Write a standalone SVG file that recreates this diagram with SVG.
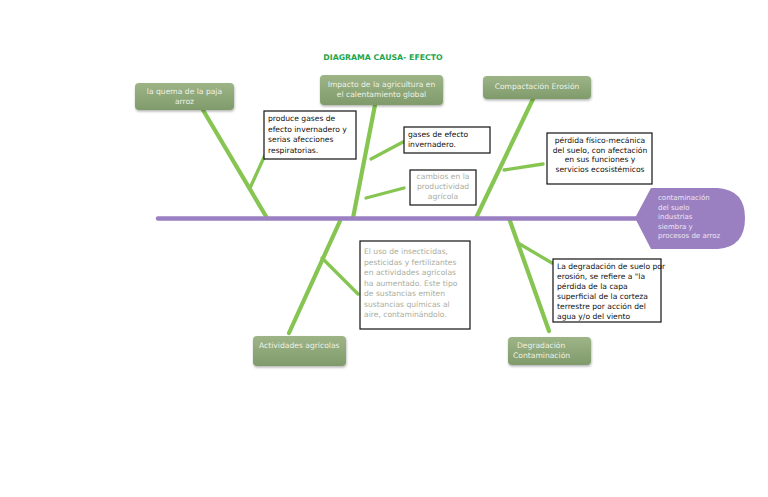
<svg xmlns="http://www.w3.org/2000/svg" width="768" height="497" viewBox="0 0 768 497">
<defs>
<linearGradient id="gn" x1="0" y1="0" x2="0" y2="1">
<stop offset="0" stop-color="#9db487"/>
<stop offset="1" stop-color="#809b6b"/>
</linearGradient>
<filter id="sh" x="-10%" y="-10%" width="130%" height="140%">
<feDropShadow dx="0.5" dy="1.5" stdDeviation="1" flood-color="#000" flood-opacity="0.3"/>
</filter>
</defs>
<style>
text{font-family:"DejaVu Sans","Verdana",sans-serif;}
.node{fill:url(#gn);filter:url(#sh);}
.nt{fill:#eef2e8;font-size:7.6px;}
.bone{stroke:#87c552;stroke-width:4.2;stroke-linecap:round;fill:none;}
.sub{stroke:#87c552;stroke-width:3.3;stroke-linecap:round;fill:none;}
.box{fill:#fff;stroke:#111;stroke-width:1.2;}
.bt{fill:#111;font-size:7.6px;}
.gt{fill:#a9ad9e;font-size:7.6px;}
.ht{fill:#ece6f5;font-size:7px;}
</style>
<rect width="768" height="497" fill="#fff"/>
<text x="383" y="60" text-anchor="middle" font-weight="bold" font-size="7.8" fill="#1ea64c">DIAGRAMA CAUSA- EFECTO</text>

<g id="connectors">
<line class="bone" x1="203" y1="110" x2="267" y2="218"/>
<line class="sub" x1="250" y1="188" x2="265" y2="155"/>
<line class="bone" x1="375" y1="105" x2="353" y2="218"/>
<line class="sub" x1="371" y1="159" x2="403" y2="142"/>
<line class="sub" x1="366" y1="198" x2="404" y2="188"/>
<line class="bone" x1="533" y1="99" x2="476" y2="218"/>
<line class="sub" x1="504" y1="170" x2="543" y2="164"/>
<line class="bone" x1="340" y1="221" x2="289" y2="333"/>
<line class="sub" x1="322" y1="258" x2="358" y2="294"/>
<line class="bone" x1="510" y1="221" x2="549" y2="331"/>
<line class="sub" x1="518" y1="243" x2="552" y2="263"/>
<line x1="158" y1="218.5" x2="637" y2="218.5" stroke="#9a7fc2" stroke-width="4.5" stroke-linecap="round"/>
</g>

<g id="head">
<path d="M635,218 L651,188 L718,188 Q745,190 745,218 Q745,247 718,249 L651,249 Z" fill="#9b80c1"/>
<text class="ht" x="658" y="200">contaminación</text>
<text class="ht" x="658" y="209.5">del suelo</text>
<text class="ht" x="658" y="219">industrias</text>
<text class="ht" x="658" y="228.5">siembra y</text>
<text class="ht" x="658" y="238">procesos de arroz</text>
</g>

<g id="n-quema">
<rect class="node" x="135" y="83" width="99" height="27" rx="4"/>
<text class="nt" x="184.5" y="94" text-anchor="middle">la quema de la paja</text>
<text class="nt" x="184.5" y="104" text-anchor="middle">arroz</text>
</g>
<g id="n-impacto">
<rect class="node" x="320" y="75" width="123" height="30" rx="4"/>
<text class="nt" x="381.5" y="87" text-anchor="middle">Impacto de la agricultura en</text>
<text class="nt" x="381.5" y="97" text-anchor="middle">el calentamiento global</text>
</g>
<g id="n-compactacion">
<rect class="node" x="483" y="76" width="108" height="23" rx="4"/>
<text class="nt" x="537" y="89" text-anchor="middle">Compactación Erosión</text>
</g>
<g id="n-actividades">
<rect class="node" x="253" y="336" width="93" height="30" rx="4"/>
<text class="nt" x="259" y="348">Actividades agrícolas</text>
</g>
<g id="n-degradacion">
<rect class="node" x="508" y="337" width="83" height="28" rx="4"/>
<text class="nt" x="517" y="348">Degradación</text>
<text class="nt" x="513" y="358">Contaminación</text>
</g>

<g id="b-produce">
<rect class="box" x="264" y="111" width="92" height="48"/>
<text class="bt" x="268" y="121">produce gases de</text>
<text class="bt" x="268" y="131.5">efecto invernadero y</text>
<text class="bt" x="268" y="142">serias afecciones</text>
<text class="bt" x="268" y="152.5">respiratorias.</text>
</g>
<g id="b-gases">
<rect class="box" x="404" y="127" width="86" height="26"/>
<text class="bt" x="408" y="137">gases de efecto</text>
<text class="bt" x="408" y="147">invernadero.</text>
</g>
<g id="b-cambios">
<rect class="box" x="410" y="170" width="66" height="35"/>
<text class="gt" x="443" y="179" text-anchor="middle">cambios en la</text>
<text class="gt" x="443" y="189" text-anchor="middle">productividad</text>
<text class="gt" x="443" y="199" text-anchor="middle">agrícola</text>
</g>
<g id="b-perdida">
<rect class="box" x="547" y="133" width="105" height="51"/>
<text class="bt" x="600" y="143" text-anchor="middle" font-size="6.7">pérdida físico-mecánica</text>
<text class="bt" x="600" y="152.5" text-anchor="middle" font-size="6.7">del suelo, con afectación</text>
<text class="bt" x="600" y="162" text-anchor="middle" font-size="6.7">en sus funciones y</text>
<text class="bt" x="600" y="171.5" text-anchor="middle" font-size="6.7">servicios ecosistémicos</text>
</g>
<g id="b-uso">
<rect class="box" x="360" y="241" width="110" height="88"/>
<text class="gt" x="364" y="254">El uso de insecticidas,</text>
<text class="gt" x="364" y="264.5">pesticidas y fertilizantes</text>
<text class="gt" x="364" y="275">en actividades agrícolas</text>
<text class="gt" x="364" y="285.5">ha aumentado. Este tipo</text>
<text class="gt" x="364" y="296">de sustancias emiten</text>
<text class="gt" x="364" y="306.5">sustancias químicas al</text>
<text class="gt" x="364" y="317">aire, contaminándolo.</text>
</g>
<g id="b-degradacion">
<rect class="box" x="553" y="259" width="108" height="63"/>
<text class="bt" x="557" y="268.5" font-size="6.9">La degradación de suelo por</text>
<text class="bt" x="557" y="278.5" font-size="6.9">erosión, se refiere a "la</text>
<text class="bt" x="557" y="288.5" font-size="6.9">pérdida de la capa</text>
<text class="bt" x="557" y="298.5" font-size="6.9">superficial de la corteza</text>
<text class="bt" x="557" y="308.5" font-size="6.9">terrestre por acción del</text>
<text class="bt" x="557" y="318.5" font-size="6.9">agua y/o del viento</text>
</g>
</svg>
